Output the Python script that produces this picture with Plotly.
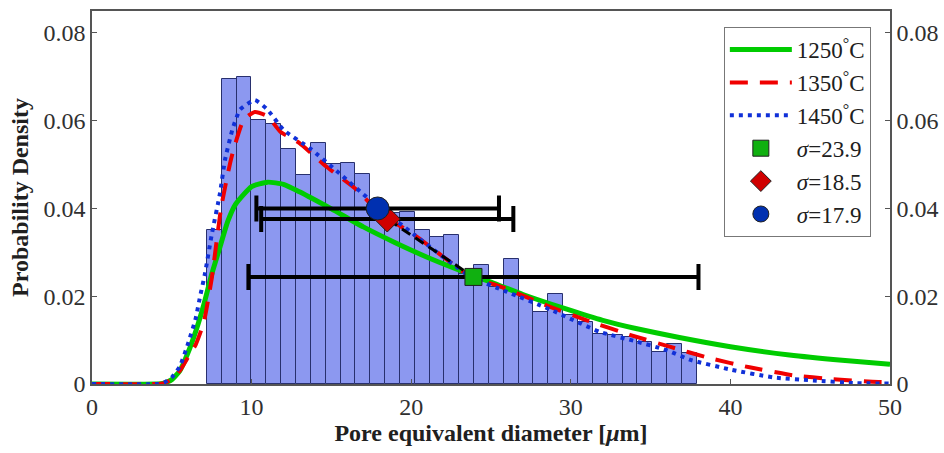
import plotly.graph_objects as go

# ---------------- data ----------------
hist_start = 7.2
hist_width = 0.93
hist_heights = [0.035, 0.0694, 0.0700, 0.0602, 0.0593, 0.0535, 0.0476, 0.0550, 0.0501,
                0.0504, 0.0479, 0.0410, 0.0390, 0.0393, 0.0350, 0.0334, 0.0340, 0.0250,
                0.0271, 0.0220, 0.0286, 0.0199, 0.0165, 0.0204, 0.0157, 0.0142, 0.0115,
                0.0112, 0.0108, 0.0096, 0.0074, 0.0091, 0.0070]

x_1250 = [0, 4, 4.5, 5, 5.5, 6, 6.5, 7, 7.5, 8, 8.5, 9, 10, 11, 12, 13, 15, 17, 19,
          21, 23.9, 25, 27, 29.7, 32, 34, 36.8, 40, 43.7, 47, 50]
y_1250 = [0, 0, 0.0002, 0.001, 0.003, 0.007, 0.012, 0.018, 0.025, 0.031, 0.037, 0.041,
          0.045, 0.046, 0.0455, 0.0438, 0.0399, 0.0358, 0.0322, 0.0289, 0.0247, 0.0232,
          0.0204, 0.0171, 0.0145, 0.0127, 0.0106, 0.0085, 0.0066, 0.0054, 0.0045]

x_1350 = [0, 4, 4.5, 5, 5.5, 6, 6.5, 7, 7.5, 8.1, 8.75, 9.5, 10.2, 11.0, 11.8, 13.0,
          14.7, 16.6, 18.05, 20.2, 23.7, 25.6, 28.7, 31.0, 33.7, 36.2, 38.7, 41.2, 43.9,
          46.4, 48.9, 50]
y_1350 = [0, 0, 0.0002, 0.001, 0.003, 0.006, 0.009, 0.014, 0.024, 0.0404, 0.0518, 0.0602,
          0.0620, 0.0610, 0.0575, 0.0549, 0.0495, 0.0442, 0.0389, 0.0340, 0.0245, 0.0222,
          0.0176, 0.0145, 0.0112, 0.0085, 0.0059, 0.0038, 0.0020, 0.0011, 0.0005, 0.0004]

x_1450 = [0, 4, 4.5, 5, 5.5, 6, 6.5, 6.77, 7.08, 7.5, 8.02, 8.33, 8.8, 9.27, 10.2, 11.0,
          12.0, 13.66, 15.5, 17.4, 20.2, 23.7, 26.0, 28.7, 31.8, 34.0, 36.0, 37.5, 40.0,
          42.7, 45.2, 47.9, 50]
y_1450 = [0, 0, 0.0003, 0.0015, 0.004, 0.009, 0.015, 0.0199, 0.0252, 0.034, 0.0435, 0.051,
          0.058, 0.0625, 0.0647, 0.0625, 0.0579, 0.0537, 0.0480, 0.0420, 0.0340, 0.0245,
          0.0210, 0.0170, 0.0119, 0.0098, 0.0077, 0.0055, 0.0033, 0.0015, 0.0008, 0.0002, 0.0001]

mark_names = ["<i>σ</i>=23.9", "<i>σ</i>=18.5", "<i>σ</i>=17.9"]
mark_x = [23.9, 18.5, 17.9]
mark_y = [0.0244, 0.0376, 0.0400]
err_minus = [14.1, 7.9, 7.6]
err_plus = [14.1, 7.9, 7.6]

x_ticks = [0, 10, 20, 30, 40, 50]
y_ticks = [0, 0.02, 0.04, 0.06, 0.08]
y_tick_text = ["0", "0.02", "0.04", "0.06", "0.08"]

# ---------------- figure ----------------
SERIF = "Liberation Serif, serif"
centers = [hist_start + hist_width * (i + 0.5) for i in range(len(hist_heights))]

fig = go.Figure()
fig.add_trace(go.Bar(x=centers, y=hist_heights, width=hist_width,
                     marker=dict(color="#8C98F0", line=dict(color="#28306E", width=1)),
                     showlegend=False, hoverinfo="skip"))

fig.add_trace(go.Scatter(x=x_1250, y=y_1250, mode="lines", name="1250<sup>°</sup>C",
                         line=dict(color="#00CC00", width=5, shape="spline", smoothing=0.5)))
fig.add_trace(go.Scatter(x=x_1350, y=y_1350, mode="lines", name="1350<sup>°</sup>C",
                         line=dict(color="#F00000", width=4, dash="18px,12px",
                                   shape="spline", smoothing=0.5)))
fig.add_trace(go.Scatter(x=x_1450, y=y_1450, mode="lines", name="1450<sup>°</sup>C",
                         line=dict(color="#1030D8", width=4, dash="4px,5px",
                                   shape="spline", smoothing=0.5)))

# dashed connector through the three markers
order = [2, 1, 0]
fig.add_trace(go.Scatter(x=[mark_x[i] for i in order], y=[mark_y[i] for i in order],
                         mode="lines", line=dict(color="black", width=3, dash="10px,6px"),
                         showlegend=False, hoverinfo="skip"))

symbols = ["square", "diamond", "circle"]
colors = ["#10B010", "#D00000", "#0030B0"]
sizes = [17, 20, 23]
for i in range(3):
    fig.add_trace(go.Scatter(
        x=[mark_x[i]], y=[mark_y[i]], mode="markers", name=mark_names[i],
        marker=dict(symbol=symbols[i], size=sizes[i], color=colors[i],
                    line=dict(color="#202020", width=1)),
        error_x=dict(type="data", symmetric=False, array=[err_plus[i]],
                     arrayminus=[err_minus[i]], color="black", thickness=4, width=13)))

# invisible trace for right axis
fig.add_trace(go.Scatter(x=[0], y=[0], yaxis="y2", mode="markers",
                         marker=dict(opacity=0), showlegend=False, hoverinfo="skip"))

axis_common = dict(showline=True, linecolor="#555555", linewidth=1.5, ticks="inside",
                   ticklen=5, tickcolor="#555555", showgrid=False, zeroline=False,
                   automargin=False,
                   tickfont=dict(family=SERIF, size=24, color="#303030"))

fig.update_layout(
    width=944, height=453,
    margin=dict(l=92, r=54, t=11, b=69),
    paper_bgcolor="white", plot_bgcolor="white",
    bargap=0,
    xaxis=dict(range=[0, 50], tickvals=x_ticks, mirror=True,
               title=dict(text="<b>Pore equivalent diameter [<i>μ</i>m]</b>",
                          font=dict(family=SERIF, size=24, color="#202020"), standoff=6),
               **axis_common),
    yaxis=dict(range=[0, 0.085], tickvals=y_ticks, ticktext=y_tick_text,
               title=dict(text="<b>Probability Density</b>",
                          font=dict(family=SERIF, size=24, color="#202020"), standoff=8),
               **axis_common),
    yaxis2=dict(range=[0, 0.085], tickvals=y_ticks, ticktext=y_tick_text,
                overlaying="y", side="right", **axis_common),
    legend=dict(x=0.976, y=0.957, xanchor="right", yanchor="top",
                bgcolor="white", bordercolor="#777777", borderwidth=1,
                font=dict(family=SERIF, size=23, color="#202020"),
                itemwidth=62, tracegroupgap=0),
    showlegend=True,
)

fig.write_html("out.html")
